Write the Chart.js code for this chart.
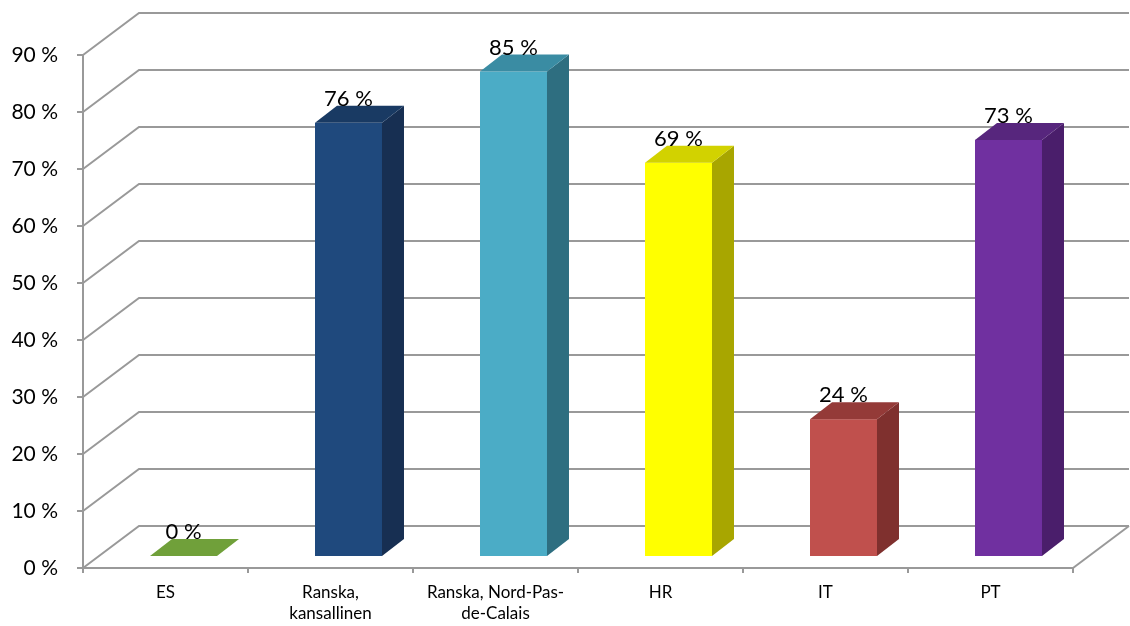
<!DOCTYPE html>
<html>
<head>
<meta charset="utf-8">
<script src="https://cdn.jsdelivr.net/npm/chart.js@4/dist/chart.umd.min.js"></script>
<style>
  html, body { margin: 0; padding: 0; background: #fff; }
  canvas { display: block; }
</style>
</head>
<body>
<canvas id="chart" width="1130" height="626"></canvas>
<script>
// data
const categories = [
  "ES",
  ["Ranska,", "kansallinen"],
  ["Ranska, Nord-Pas-", "de-Calais"],
  "HR",
  "IT",
  "PT",
];
const values = [0, 76, 85, 69, 24, 73];
const valueLabels = ["0 %", "76 %", "85 %", "69 %", "24 %", "73 %"];
const yTicks = [0, 10, 20, 30, 40, 50, 60, 70, 80, 90];

// bar face colours (front / side / top)
const frontColors = ["#77a03c", "#1f497d", "#4bacc6", "#ffff00", "#c0504d", "#7030a0"];
const sideColors = ["#5a7c2c", "#172f52", "#2e6e80", "#a8a600", "#7f302e", "#4a1e6b"];
const topColors = ["#70a03a", "#193a63", "#3a8ca3", "#d2d200", "#943a38", "#57267d"];

const FONT = "Lato, 'Liberation Sans', sans-serif";
const GRID = "#999999";

// 3d geometry
const WALL_DX = 56, WALL_DY = 42; // depth of back wall
const BAR_OX = 18, BAR_OY = 12;   // bar front face sits a bit back from the front plane
const BAR_DX = 22, BAR_DY = 17;   // bar depth

const poly = (ctx, pts, color) => {
  ctx.fillStyle = color;
  ctx.beginPath();
  ctx.moveTo(pts[0][0], pts[0][1]);
  for (let i = 1; i < pts.length; i++) ctx.lineTo(pts[i][0], pts[i][1]);
  ctx.closePath();
  ctx.fill();
};

const box3d = {
  id: "box3d",
  beforeDatasetsDraw(chart) {
    const { ctx, chartArea: a, scales: { y } } = chart;
    ctx.save();
    ctx.strokeStyle = GRID;
    ctx.lineWidth = 2;
    // side wall diagonals + back wall grid lines
    yTicks.forEach((v) => {
      const py = y.getPixelForValue(v);
      ctx.beginPath();
      ctx.moveTo(a.left, py);
      ctx.lineTo(a.left + WALL_DX, py - WALL_DY);
      ctx.lineTo(a.right + WALL_DX, py - WALL_DY);
      ctx.stroke();
    });
    // floor right edge
    const y0 = y.getPixelForValue(0);
    ctx.beginPath();
    ctx.moveTo(a.right, y0);
    ctx.lineTo(a.right + WALL_DX, y0 - WALL_DY);
    ctx.stroke();
    ctx.restore();
  },
  beforeDatasetDraw(chart, args) {
    const { ctx, scales: { y } } = chart;
    ctx.save();
    args.meta.data.forEach((bar, i) => {
      const { x, width } = bar.getProps(["x", "width"], true);
      const l = x - width / 2 + BAR_OX;
      const r = x + width / 2 + BAR_OX;
      const b = y.getPixelForValue(0) - BAR_OY;
      const t = y.getPixelForValue(values[i]) - BAR_OY;
      if (b - t > 0.5) {
        ctx.fillStyle = frontColors[i];
        ctx.fillRect(l, t, r - l, b - t);
        poly(ctx, [[r, b], [r, t], [r + BAR_DX, t - BAR_DY], [r + BAR_DX, b - BAR_DY]], sideColors[i]);
      }
      poly(ctx, [[l, t], [r, t], [r + BAR_DX, t - BAR_DY], [l + BAR_DX, t - BAR_DY]], topColors[i]);

      ctx.fillStyle = "#000";
      ctx.font = `22px ${FONT}`;
      ctx.textAlign = "center";
      ctx.textBaseline = "alphabetic";
      ctx.fillText(valueLabels[i], (l + r) / 2, t - 17);
    });
    ctx.restore();
    return false; // default flat bars are replaced by the boxes above
  },
};

new Chart(document.getElementById("chart").getContext("2d"), {
  type: "bar",
  data: {
    labels: categories,
    datasets: [
      {
        data: values,
        backgroundColor: frontColors,
        categoryPercentage: 1,
        barPercentage: 0.406,
      },
    ],
  },
  options: {
    responsive: false,
    animation: false,
    events: [],
    layout: { padding: { top: 55, right: 57, left: 0, bottom: 0 } },
    plugins: {
      legend: { display: false },
      tooltip: { enabled: false },
    },
    scales: {
      x: {
        grid: {
          drawOnChartArea: false,
          drawTicks: true,
          tickLength: 5,
          color: GRID,
          lineWidth: 2,
        },
        border: { color: GRID, width: 2 },
        ticks: {
          color: "#000",
          font: { family: FONT, size: 17, lineHeight: 1.25 },
          padding: 9,
          maxRotation: 0,
          autoSkip: false,
        },
        afterFit: (s) => {
          s.height = 58;
        },
      },
      y: {
        min: 0,
        max: 90,
        grid: {
          drawOnChartArea: false,
          drawTicks: true,
          tickLength: 6,
          color: GRID,
          lineWidth: 2,
        },
        border: { color: GRID, width: 2 },
        ticks: {
          stepSize: 10,
          color: "#000",
          padding: 19,
          font: { family: FONT, size: 21 },
          callback: (v) => `${v} %`,
        },
        afterFit: (s) => {
          s.width = 83;
        },
      },
    },
  },
  plugins: [box3d],
});
</script>
</body>
</html>
